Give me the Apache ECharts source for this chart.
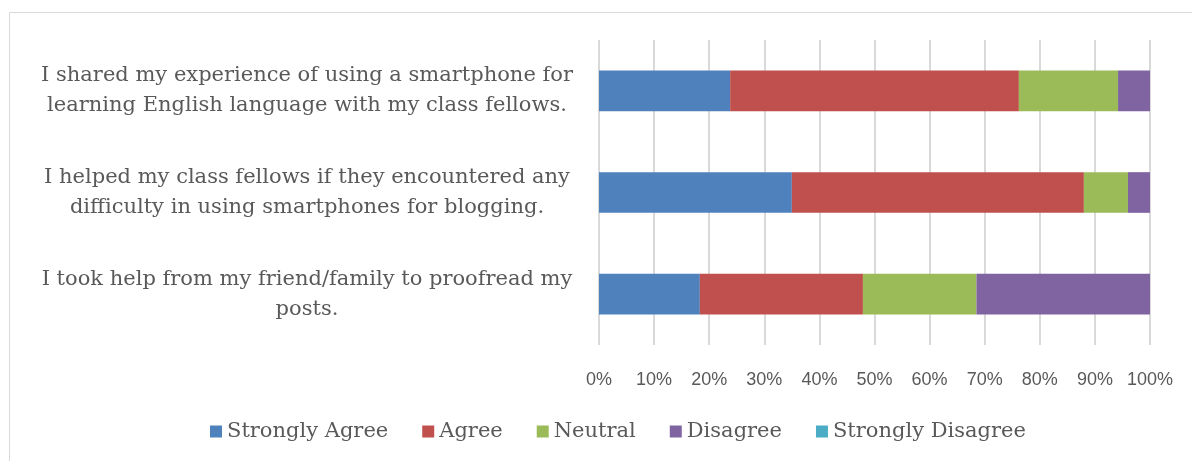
<!DOCTYPE html>
<html>
<head>
<meta charset="utf-8">
<script src="https://cdn.jsdelivr.net/npm/echarts@6/dist/echarts.min.js"></script>
<style>
  html, body { margin: 0; padding: 0; background: #ffffff; }
  #chart { width: 1192px; height: 461px; }
</style>
</head>
<body>
<div id="chart"></div>
<script>
// Survey statements (top to bottom)
const statements = [
  'I shared my experience of using a smartphone for\nlearning English language with my class fellows.',
  'I helped my class fellows if they encountered any\ndifficulty in using smartphones for blogging.',
  'I took help from my friend/family to proofread my\nposts.'
];

// Response shares (%) per statement
const stronglyAgree    = [23.8, 35.0, 18.3];
const agree            = [52.4, 53.0, 29.6];
const neutral          = [18.0, 8.0, 20.6];
const disagree         = [5.8, 4.0, 31.5];
const stronglyDisagree = [0, 0, 0];

const seriesNames = ['Strongly Agree', 'Agree', 'Neutral', 'Disagree', 'Strongly Disagree'];
const seriesValues = [stronglyAgree, agree, neutral, disagree, stronglyDisagree];
const seriesColors = ['#4f81bd', '#c0504d', '#9bbb59', '#8064a2', '#4bacc6'];

const serif = '"DejaVu Serif", "Liberation Serif", serif';
const sans = '"Liberation Sans", "Open Sans", sans-serif';

const chart = echarts.init(document.getElementById('chart'));
chart.setOption({
  animation: false,
  backgroundColor: '#ffffff',
  graphic: [{
    type: 'rect',
    shape: { x: 9.5, y: 12.5, width: 1200, height: 470 },
    style: { fill: 'none', stroke: '#d9d9d9', lineWidth: 1 },
    silent: true
  }],
  grid: { left: 599, right: 42, top: 40, bottom: 116 },
  legend: {
    bottom: 14,
    left: 205,
    itemWidth: 12,
    itemHeight: 12,
    itemGap: 34,
    icon: 'rect',
    textStyle: { fontFamily: serif, fontSize: 21, color: '#595959' },
    data: seriesNames
  },
  xAxis: {
    type: 'value',
    min: 0,
    max: 100,
    interval: 10,
    axisLine: { show: false },
    axisTick: { show: false },
    axisLabel: {
      formatter: '{value}%',
      fontFamily: sans,
      fontSize: 18,
      color: '#595959',
      margin: 26
    },
    splitLine: { lineStyle: { color: '#d9d9d9', width: 2 } }
  },
  yAxis: {
    type: 'category',
    inverse: true,
    data: statements,
    axisLine: { show: false },
    axisTick: { show: false },
    axisLabel: {
      fontFamily: serif,
      fontSize: 21,
      lineHeight: 30,
      color: '#595959',
      align: 'center',
      margin: 292
    }
  },
  series: seriesNames.map((name, i) => ({
    name: name,
    type: 'bar',
    stack: 'total',
    barWidth: '40%',
    data: seriesValues[i],
    itemStyle: { color: seriesColors[i] }
  }))
});
</script>
</body>
</html>
